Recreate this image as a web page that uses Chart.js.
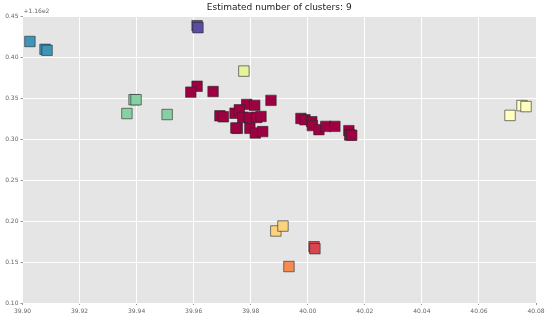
<!DOCTYPE html>
<html>
<head>
<meta charset="utf-8">
<script src="https://cdn.jsdelivr.net/npm/chart.js@4"></script>
<style>
  html, body { margin: 0; padding: 0; background: #fff; }
  #wrap { width: 548px; height: 318px; }
</style>
</head>
<body>
<div id="wrap"><canvas id="myChart" width="548" height="318"></canvas></div>
<script>
// latitude (x) and longitude offset from 116 (y), one list per cluster
const clusterNames = ['c0', 'c1', 'c2', 'c3', 'c4', 'c5', 'c6', 'c7', 'c8'];
const clusterColors = ['#9E0142', '#DA4650', '#F58B50', '#FCD27F', '#FFFFBF', '#E4F49B', '#88D0A4', '#3F95B8', '#5B4DA0'];

const c0x = [39.9612, 39.9590, 39.9668, 39.9786, 39.9814, 39.9871, 39.9692, 39.9704, 39.9745, 39.9760, 39.9772, 39.9795, 39.9821, 39.9836, 39.9753, 39.9748, 39.9797, 39.9816, 39.9842, 39.9976, 39.9990, 40.0014, 40.0016, 40.0039, 40.0063, 40.0095, 40.0144, 40.0147, 40.0154];
const c0y = [0.3651, 0.3579, 0.3586, 0.3429, 0.3417, 0.3478, 0.3289, 0.3277, 0.3321, 0.3362, 0.3269, 0.3269, 0.3269, 0.3281, 0.3136, 0.3140, 0.3136, 0.3079, 0.3096, 0.3257, 0.3241, 0.3217, 0.3169, 0.3120, 0.3160, 0.3160, 0.3108, 0.3055, 0.3052];
const c1x = [40.0022, 40.0025];
const c1y = [0.1688, 0.1664];
const c2x = [39.9934];
const c2y = [0.1446];
const c3x = [39.9888, 39.9913];
const c3y = [0.1881, 0.1941];
const c4x = [40.0709, 40.0751, 40.0765];
const c4y = [0.3294, 0.3414, 0.3402];
const c5x = [39.9776];
const c5y = [0.3836];
const c6x = [39.9391, 39.9398, 39.9366, 39.9507];
const c6y = [0.3486, 0.3486, 0.3317, 0.3305];
const c7x = [39.9026, 39.9079, 39.9086];
const c7y = [0.4198, 0.4102, 0.4090];
const c8x = [39.9612, 39.9615];
const c8y = [0.4391, 0.4367];

const xTicks = [39.90, 39.92, 39.94, 39.96, 39.98, 40.00, 40.02, 40.04, 40.06, 40.08];
const yTicks = [0.10, 0.15, 0.20, 0.25, 0.30, 0.35, 0.40, 0.45];
const yOffsetLabel = '+1.16e2';
const titleText = 'Estimated number of clusters: 9';

const xs = [c0x, c1x, c2x, c3x, c4x, c5x, c6x, c7x, c8x];
const ys = [c0y, c1y, c2y, c3y, c4y, c5y, c6y, c7y, c8y];

const datasets = clusterNames.map((name, i) => ({
    label: name,
    data: xs[i].map((x, j) => ({ x: x, y: ys[i][j] })),
    pointStyle: 'rect',
    pointRadius: 7.4,
    pointHoverRadius: 7.4,
    backgroundColor: clusterColors[i],
    borderColor: 'rgba(40,40,40,0.6)',
    borderWidth: 1
}));

// grey plot background + offset text
const plotBg = {
    id: 'plotBg',
    beforeDraw(chart) {
        const a = chart.chartArea;
        const c = chart.ctx;
        c.save();
        c.fillStyle = '#E5E5E5';
        c.fillRect(a.left, a.top, a.right - a.left, a.bottom - a.top);
        c.restore();
    },
    afterDraw(chart) {
        const a = chart.chartArea;
        const c = chart.ctx;
        c.save();
        c.fillStyle = '#666';
        c.font = '6px "DejaVu Sans"';
        c.textBaseline = 'bottom';
        c.fillText(yOffsetLabel, a.left + 1, a.top - 2);
        c.restore();
    }
};

const ctx = document.getElementById('myChart');

new Chart(ctx, {
    type: 'scatter',
    data: { datasets: datasets },
    plugins: [plotBg],
    options: {
        responsive: false,
        animation: false,
        layout: {
            padding: { left: 0, right: 12, top: 2, bottom: 0 }
        },
        plugins: {
            legend: { display: false },
            tooltip: { enabled: false },
            title: {
                display: true,
                text: titleText,
                fullSize: false,
                color: '#222',
                font: { family: '"DejaVu Sans"', size: 9, weight: 'normal' },
                padding: { top: 0, bottom: 4 }
            }
        },
        scales: {
            x: {
                type: 'linear',
                min: 39.90,
                max: 40.08,
                afterBuildTicks: (s) => { s.ticks = xTicks.map(v => ({ value: v })); },
                afterFit: (s) => { s.height = 15; },
                border: { display: false },
                grid: { color: '#FFFFFF', lineWidth: 1, tickColor: '#999', tickLength: 2 },
                ticks: {
                    color: '#666',
                    font: { family: '"DejaVu Sans"', size: 6 },
                    padding: 3,
                    maxRotation: 0,
                    callback: (v) => v.toFixed(2)
                }
            },
            y: {
                type: 'linear',
                min: 0.10,
                max: 0.45,
                afterBuildTicks: (s) => { s.ticks = yTicks.map(v => ({ value: v })); },
                afterFit: (s) => { s.width = 22.5; },
                border: { display: false },
                grid: { color: '#FFFFFF', lineWidth: 1, tickColor: '#999', tickLength: 2 },
                ticks: {
                    color: '#666',
                    font: { family: '"DejaVu Sans"', size: 6 },
                    padding: 2,
                    callback: (v) => v.toFixed(2)
                }
            }
        }
    }
});
</script>
</body>
</html>
